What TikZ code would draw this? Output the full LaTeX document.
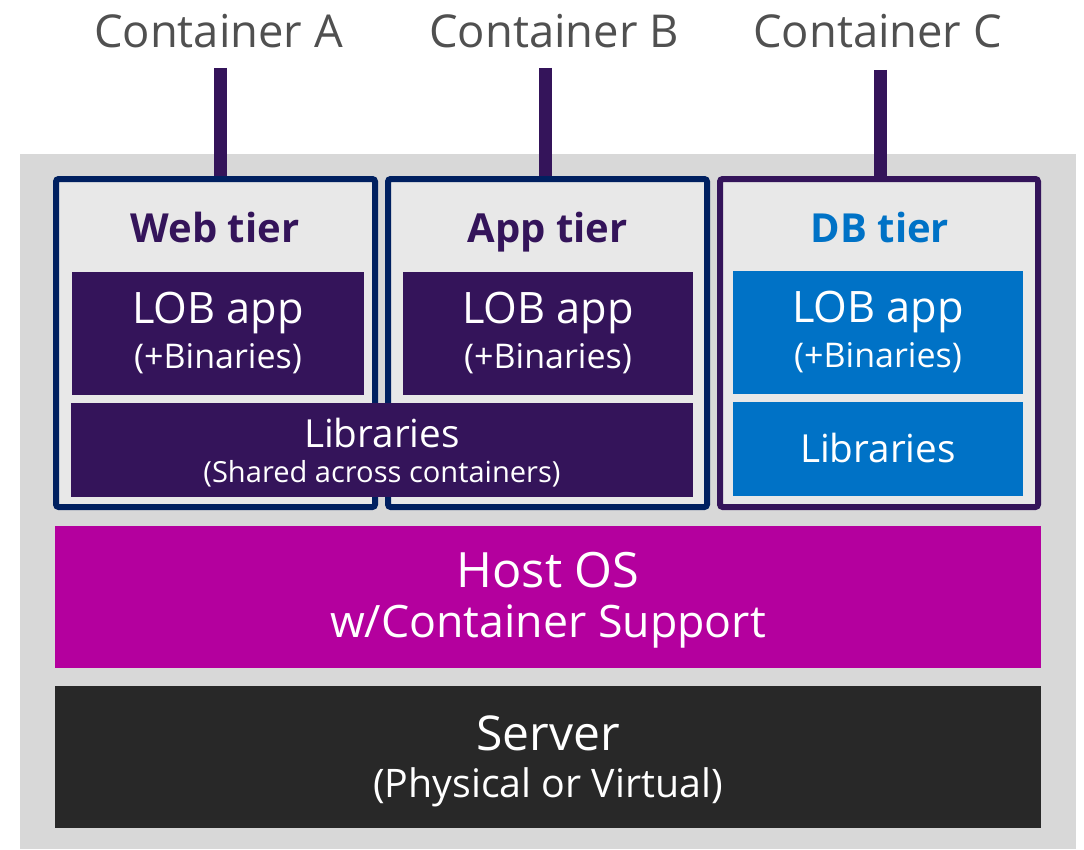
\documentclass[tikz,border=0pt]{standalone}
\usepackage{fontspec}
\setmainfont{Open Sans}
\usepackage{xcolor}
\usepackage{tikz}
\usetikzlibrary{fit}
\definecolor{ctrpurple}{RGB}{52, 20, 90}
\definecolor{ctrnavy}{RGB}{0, 32, 96}
\definecolor{ctrblue}{RGB}{0, 114, 198}
\definecolor{ctrmagenta}{RGB}{180, 0, 158}
\definecolor{ctrdark}{RGB}{40, 40, 40}
\definecolor{ctrgray}{RGB}{216, 216, 216}
\definecolor{ctrlight}{RGB}{232, 232, 232}
\definecolor{ctrtext}{RGB}{80, 80, 80}

\begin{document}
\begin{tikzpicture}[x=0.75pt,y=-0.75pt,
    box/.style={fill=#1,inner sep=0pt},
    frame/.style={draw=#1,fill=ctrlight,line width=4.5pt,rounded corners=2pt,inner sep=0pt},
    stem/.style={ctrpurple,line width=9.75pt},
    title/.style={anchor=base,ctrtext,font=\fontsize{34}{40}\selectfont},
    tier/.style={anchor=base,font=\bfseries\fontsize{30}{36}\selectfont},
    big/.style={anchor=base,white,font=\fontsize{32.5}{38}\selectfont},
    small/.style={anchor=base,white,font=\fontsize{25.5}{30}\selectfont}]
    \useasboundingbox (0,0) rectangle (1084,849);
    \fill[ctrgray] (20,154) rectangle (1076,849);

    % container frames
    \node[frame=ctrnavy,fit={(56,179) (375,507)}] (frameA) {};
    \node[frame=ctrnavy,fit={(388,179) (707,507)}] (frameB) {};
    \node[frame=ctrpurple,fit={(720,179) (1038,507)}] (frameC) {};

    % container names and stems
    \node[title] (titleA) at (218.5,48) {Container A};
    \node[title] (titleB) at (554,48) {Container B};
    \node[title] (titleC) at (877.5,48) {Container C};
    \coordinate (stemA) at (220,68);
    \coordinate (stemB) at (545,68);
    \coordinate (stemC) at (880,70);
    \draw[stem] (stemA) -- (stemA |- frameA.north);
    \draw[stem] (stemB) -- (stemB |- frameB.north);
    \draw[stem] (stemC) -- (stemC |- frameC.north);

    % tiers
    \node[tier,ctrpurple] (webT) at (215,242) {Web tier};
    \node[tier,ctrpurple] (appT) at (547.5,242) {App tier};
    \node[tier,ctrblue] (dbT) at (880,242) {DB tier};

    % apps
    \node[box=ctrpurple,fit={(72,272) (364,395)}] (lobA) {};
    \node[big] (lobAtxt) at (218,323) {LOB app};
    \node[small] (lobAbin) at (218,368) {(+Binaries)};

    \node[box=ctrpurple,fit={(403,272) (693,395)}] (lobB) {};
    \node[big] (lobBtxt) at (548,323) {LOB app};
    \node[small] (lobBbin) at (548,368) {(+Binaries)};

    \node[box=ctrblue,fit={(733,271) (1023,394)}] (lobC) {};
    \node[big] (lobCtxt) at (878,322) {LOB app};
    \node[small] (lobCbin) at (878,367) {(+Binaries)};

    % libraries
    \node[box=ctrpurple,fit={(71,403) (693,497)}] (libAB) {};
    \node[big,font=\fontsize{29}{34}\selectfont] (libABtxt) at (382,447) {Libraries};
    \node[small,font=\fontsize{21.8}{26}\selectfont] (libABsub) at (382,482) {(Shared across containers)};

    \node[box=ctrblue,fit={(733,402) (1023,496)}] (libC) {};
    \node[big,font=\fontsize{29}{34}\selectfont] (libCtxt) at (878,462) {Libraries};

    % host and server
    \node[box=ctrmagenta,fit={(55,526) (1041,668)}] (host) {};
    \node[big,font=\fontsize{36.5}{42}\selectfont] (hosttxt) at (548,587) {Host OS};
    \node[big,font=\fontsize{33.5}{40}\selectfont] (hostsub) at (548,637) {w/Container Support};

    \node[box=ctrdark,fit={(55,686) (1041,828)}] (server) {};
    \node[big,font=\fontsize{36}{42}\selectfont] (servertxt) at (548,750) {Server};
    \node[small,font=\fontsize{29.5}{35}\selectfont] (serversub) at (548,797) {(Physical or Virtual)};
\end{tikzpicture}
\end{document}
